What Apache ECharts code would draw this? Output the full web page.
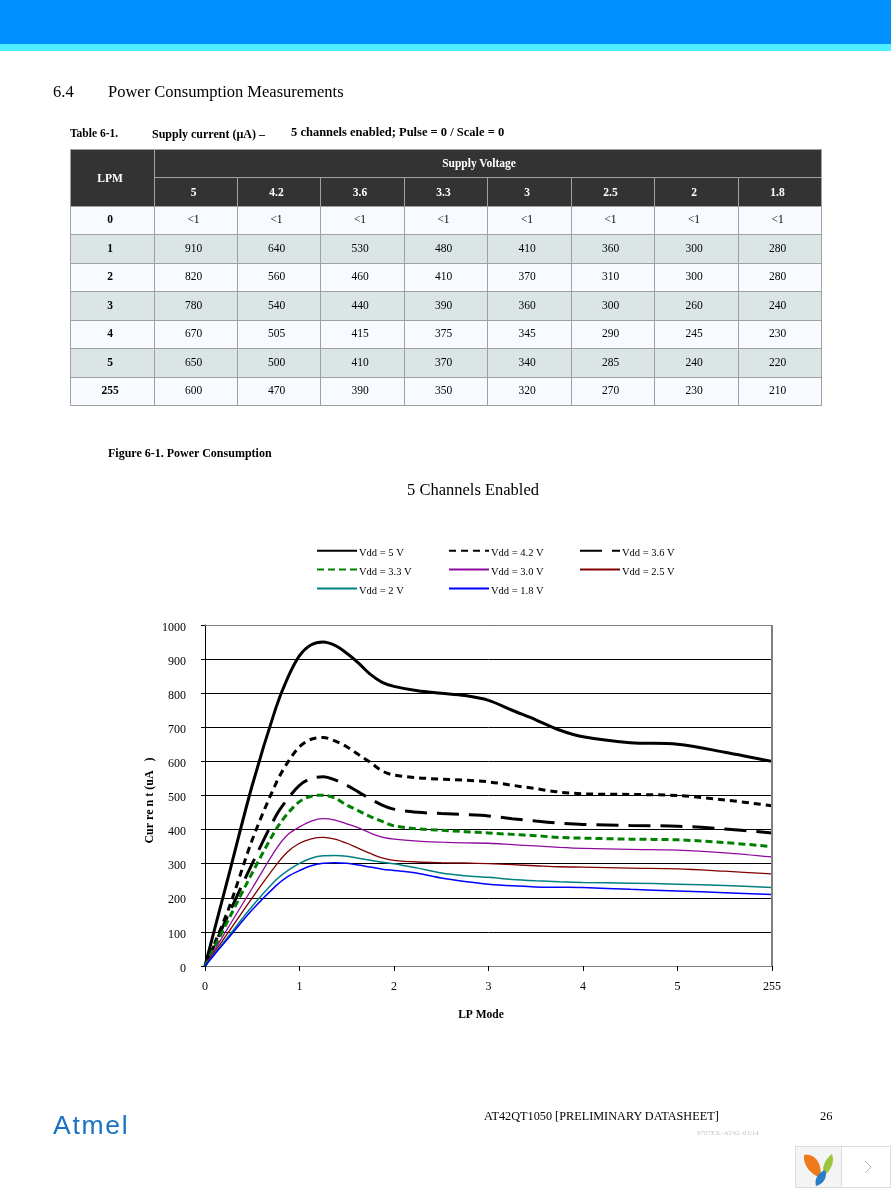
<!DOCTYPE html>
<html><head><meta charset="utf-8">
<script src="https://cdn.jsdelivr.net/npm/echarts@6/dist/echarts.min.js"></script>
<style>
html,body{margin:0;padding:0;background:#fff;width:891px;height:1188px;overflow:hidden}
#chart{position:absolute;left:0;top:0;width:891px;height:1188px}
.t{position:absolute;font-family:"Liberation Serif",serif;color:#000;white-space:pre;line-height:1}
.b{font-weight:bold}
#band1{position:absolute;left:0;top:0;width:891px;height:44px;background:#0090ff}
#band2{position:absolute;left:0;top:44px;width:891px;height:7px;background:#4deeff}
table{position:absolute;left:70px;top:149px;border-collapse:collapse;table-layout:fixed;width:752px;font-family:"Liberation Serif",serif;font-size:11.5px}
td{border:1px solid #a0a0a0;text-align:center;padding:0 5px 3px 0;box-sizing:border-box}
tr.h td{background:#333;color:#fff;font-weight:bold;font-size:11.5px;padding-bottom:1px}
tr.o td{background:#f7faff}
tr.e td{background:#dce5e5}
td.k{font-weight:bold}
tr.h td.sv{padding-right:18px}
</style></head><body>
<div id="chart"></div>
<div id="band1"></div><div id="band2"></div>
<div class="t" style="left:53px;top:84px;font-size:16.5px">6.4</div>
<div class="t" style="left:108px;top:84px;font-size:16.5px">Power Consumption Measurements</div>
<div class="t b" style="left:70px;top:128px;font-size:11.5px">Table 6-1.</div>
<div class="t b" style="left:152px;top:128px;font-size:12px">Supply current (µA) –</div>
<div class="t b" style="left:291px;top:126px;font-size:12.5px">5 channels enabled; Pulse = 0 / Scale = 0</div>
<table id="tbl"></table>
<div class="t b" style="left:108px;top:447px;font-size:12px">Figure 6-1. Power Consumption</div>
<div class="t" style="left:484px;top:1110px;font-size:12.25px">AT42QT1050 [PRELIMINARY DATASHEET]</div>
<div class="t" style="left:820px;top:1110px;font-size:12.5px">26</div>
<div class="t" style="left:697px;top:1130px;font-size:7px;color:#c4c4c4">9707EX–AT42–01/14</div>
<div class="t" style="left:53px;top:1110px;font:normal 26.5px 'Liberation Sans',sans-serif;color:#1a72c4;letter-spacing:1.7px">Atmel</div>
<svg style="position:absolute;left:795px;top:1146px" width="96" height="42" viewBox="0 0 96 42">
<rect x="0.5" y="0.5" width="95" height="41" fill="#fff" stroke="#ddd"/>
<rect x="0.5" y="0.5" width="46" height="41" fill="#f4f4f4" stroke="#ddd"/>
<path d="M9 9C20 7 28 18 25 32C16 28 8 20 9 9Z" fill="#ee7a1c"/>
<path d="M37 8C40 16 36 24 29 30C26 22 30 13 37 8Z" fill="#9cc53d"/>
<path d="M30 24C33 30 29 38 21 40C19 33 23 27 30 24Z" fill="#2a7fc6"/>
<path d="M70 15L76 21L70 27" fill="none" stroke="#bbb"/>
</svg>
<script>
const lpmRows = ['0','1','2','3','4','5','255'];
const supplyHeads = ['5','4.2','3.6','3.3','3','2.5','2','1.8'];
const row0 = ['<1','<1','<1','<1','<1','<1','<1','<1'];
const row1 = [910,640,530,480,410,360,300,280];
const row2 = [820,560,460,410,370,310,300,280];
const row3 = [780,540,440,390,360,300,260,240];
const row4 = [670,505,415,375,345,290,245,230];
const row5 = [650,500,410,370,340,285,240,220];
const row255 = [600,470,390,350,320,270,230,210];
const tableRows = [row0,row1,row2,row3,row4,row5,row255];

const xTickLabels = ['0','1','2','3','4','5','255'];
const xPos = [0,0.25,0.5,0.75,0.875,1,1.125,1.25,1.375,1.5,1.625,1.75,1.875,2,2.25,2.5,2.75,3,3.25,3.5,3.75,4,4.5,5,5.5,6];
const v50 = [0,265,530,757,845,910,942,950,940,917,888,855,832,820,807,800,793,779,750,722,692,672,655,650,627,600];
const v42 = [0,168,370,535,597,643,665,670,660,643,620,597,572,560,552,548,545,540,530,520,510,505,503,500,487,470];
const v36 = [0,152,300,440,490,530,550,555,546,530,510,490,472,460,451,447,444,440,432,425,419,415,412,410,402,390];
const v33 = [0,137,273,400,447,482,498,501,492,472,455,438,424,411,402,398,394,390,386,382,377,375,372,370,362,350];
const v30 = [0,115,228,342,385,408,425,432,428,417,405,390,378,372,366,363,361,360,356,352,348,345,342,340,332,320];
const v25 = [0,100,200,295,335,360,373,377,372,360,345,330,317,310,305,303,302,300,297,294,291,290,287,285,278,270];
const v20 = [0,88,175,252,280,301,316,323,324,322,316,310,304,300,287,273,265,260,254,250,247,245,243,240,236,230];
const v18 = [0,83,165,235,262,280,294,301,303,301,296,290,284,280,272,258,248,240,235,232,231,230,225,220,215,210];

const widths=[84,83,83,84,83,84,83,84,83];
let h='<colgroup>'+widths.map(w=>`<col style="width:${w}px">`).join('')+'</colgroup>';
h+=`<tr class="h" style="height:28px"><td rowspan="2">LPM</td><td colspan="8" class="sv">Supply Voltage</td></tr>`;
h+=`<tr class="h" style="height:29px">`+supplyHeads.map(s=>`<td>${s}</td>`).join('')+`</tr>`;
const esc=s=>String(s).replace('<','&lt;');
const hs=[28,29,28,29,28,29,28];
tableRows.forEach((r,i)=>{h+=`<tr class="${i%2?'e':'o'}" style="height:${hs[i]}px"><td class="k">${lpmRows[i]}</td>`+r.map(v=>`<td>${esc(v)}</td>`).join('')+`</tr>`;});
document.getElementById('tbl').innerHTML=h;

const F='Liberation Serif';
const mk=(name,vals,color,width,type)=>({name,type:'line',symbol:'none',smooth:0.33,
  data:xPos.map((x,i)=>[x,vals[i]]),lineStyle:{color,width,type},itemStyle:{color},z:3,emphasis:{disabled:true}});
const series=[
 mk('Vdd = 5 V',v50,'#000',3,'solid'),
 mk('Vdd = 4.2 V',v42,'#000',3,[7,5]),
 mk('Vdd = 3.6 V',v36,'#000',3,[22,10]),
 mk('Vdd = 3.3 V',v33,'#008000',3,[7,4]),
 mk('Vdd = 3.0 V',v30,'#8e0a9e',1.3,'solid'),
 mk('Vdd = 2.5 V',v25,'#800000',1.3,'solid'),
 mk('Vdd = 2 V',v20,'#008080',1.5,'solid'),
 mk('Vdd = 1.8 V',v18,'#0000ff',1.5,'solid')
];
const leg=(left,data)=>({show:true,left,top:546,orient:'vertical',data,itemWidth:40,itemHeight:12,itemGap:6,padding:0,
  selectedMode:false,itemStyle:{opacity:0},formatter:'{a|{name}}',
  textStyle:{rich:{a:{fontFamily:F,fontSize:10.5,color:'#000',padding:[5,0,0,-3]}}}});
const chart=echarts.init(document.getElementById('chart'),null,{renderer:'canvas'});
chart.setOption({
 animation:false,backgroundColor:'#fff',
 title:{text:'5 Channels Enabled',left:473,top:482,textAlign:'center',padding:0,
   textStyle:{fontFamily:F,fontSize:16.5,fontWeight:'normal',color:'#000'}},
 legend:[leg(316,['Vdd = 5 V','Vdd = 3.3 V','Vdd = 2 V']),leg(448,['Vdd = 4.2 V','Vdd = 3.0 V','Vdd = 1.8 V']),leg(579,['Vdd = 3.6 V','Vdd = 2.5 V'])],
 grid:{left:205,top:625,width:567,height:341,show:false},
 xAxis:{type:'value',min:0,max:6,interval:1,
   axisLine:{onZero:false,lineStyle:{color:'#808080',width:1}},axisTick:{length:5,lineStyle:{color:'#000'}},
   splitLine:{show:false},
   axisLabel:{fontFamily:F,fontSize:12,color:'#000',margin:15,formatter:v=>xTickLabels[v],hideOverlap:false,showMaxLabel:true,showMinLabel:true},
   name:'LP Mode',nameLocation:'middle',nameGap:43,nameTextStyle:{fontFamily:F,fontSize:11.5,fontWeight:'bold',color:'#000',padding:[0,15,0,0]}},
 yAxis:{type:'value',min:0,max:1000,interval:100,
   axisLine:{show:true,onZero:false,lineStyle:{color:'#000',width:1}},axisTick:{show:true,length:4,lineStyle:{color:'#000'}},
   splitLine:{show:true,lineStyle:{color:'#000',width:1}},
   axisLabel:{margin:19,formatter:v=>'{a|'+v+'}',rich:{a:{fontFamily:F,fontSize:12,color:'#000',padding:[5,0,0,0]}}},
   name:'Cur re n t (uA   )',nameLocation:'middle',nameGap:49,nameRotate:90,nameMoveOverlap:false,nameTextStyle:{fontFamily:F,fontSize:12,fontWeight:'bold',color:'#000',padding:[0,10,0,0]}},
 series,
 graphic:[
  {type:'line',silent:true,z:10,shape:{x1:205,y1:625.5,x2:772,y2:625.5},style:{stroke:'#808080',lineWidth:1}},
  {type:'line',silent:true,z:10,shape:{x1:772,y1:625,x2:772,y2:966},style:{stroke:'#808080',lineWidth:2}}
 ]
});
</script>
</body></html>
